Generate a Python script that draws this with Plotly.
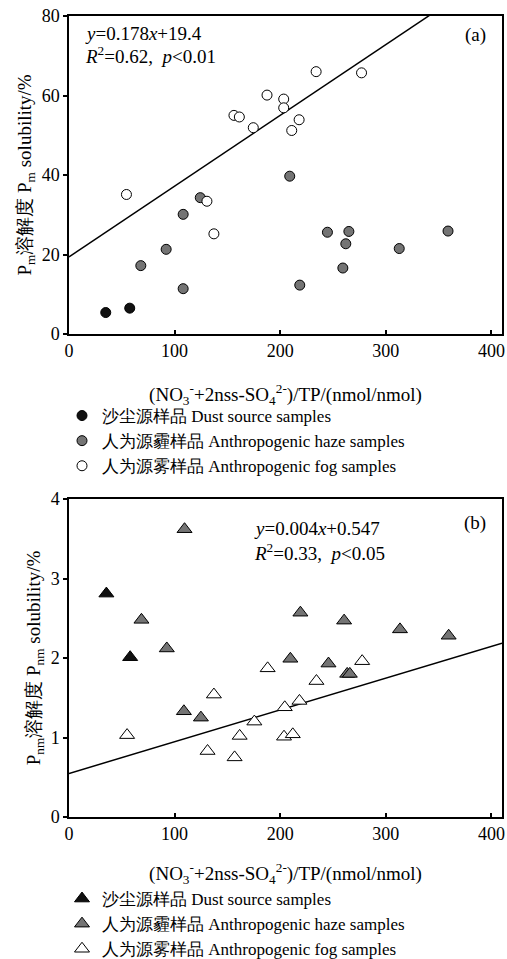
import plotly.graph_objects as go

# ---------------- data ----------------
# Panel (a): Pm solubility (%)
dust_x_a = [34.8, 57.5]
dust_y_a = [5.4, 6.5]
haze_x_a = [68.0, 92.0, 108.1, 108.1, 124.3, 209.0, 218.5, 244.7, 259.3, 262.1, 265.0, 312.7, 358.9]
haze_y_a = [17.2, 21.3, 11.4, 30.1, 34.3, 39.7, 12.3, 25.6, 16.6, 22.7, 25.8, 21.5, 25.9]
fog_x_a = [54.4, 130.6, 137.2, 156.2, 161.3, 174.5, 187.5, 203.3, 203.3, 210.9, 217.9, 234.0, 277.0]
fog_y_a = [35.1, 33.4, 25.2, 55.0, 54.6, 51.9, 60.1, 59.1, 56.9, 51.2, 53.9, 66.0, 65.7]
slope_a, icpt_a = 0.178, 19.4

# Panel (b): Pnm solubility (%)
dust_x_b = [35.4, 57.9]
dust_y_b = [2.81, 2.01]
haze_x_b = [68.6, 92.6, 109.4, 108.8, 124.9, 209.6, 219.1, 245.7, 260.5, 263.4, 265.9, 313.4, 359.5]
haze_y_b = [2.48, 2.12, 3.62, 1.33, 1.25, 1.99, 2.57, 1.93, 2.47, 1.80, 1.80, 2.36, 2.28]
fog_x_b = [55.0, 131.2, 137.2, 156.8, 161.6, 175.5, 188.1, 203.6, 204.3, 211.9, 218.2, 234.3, 277.6]
fog_y_b = [1.03, 0.83, 1.54, 0.75, 1.02, 1.20, 1.87, 1.01, 1.38, 1.04, 1.46, 1.71, 1.96]
slope_b, icpt_b = 0.004, 0.547

x_ticks = [0, 100, 200, 300, 400]
y_ticks_a = [0, 20, 40, 60, 80]
y_ticks_b = [0, 1, 2, 3, 4]

names = ["沙尘源样品 Dust source samples",
         "人为源霾样品 Anthropogenic haze samples",
         "人为源雾样品 Anthropogenic fog samples"]

# ---------------- style ----------------
FONT = "Liberation Serif, serif"
C_DUST = "#111111"
C_HAZE = "#747474"
C_FOG = "#ffffff"
X_MAX = 410

fig = go.Figure()

def add_group(x, y, color, name, symbol, size, xa, ya, legend):
    fig.add_trace(go.Scatter(
        x=x, y=y, mode="markers", name=name,
        marker=dict(symbol=symbol, size=size, color=color,
                    line=dict(color="#000000", width=1)),
        xaxis=xa, yaxis=ya, legend=legend))

# fit lines
line_x = [0, X_MAX]
fig.add_trace(go.Scatter(x=line_x, y=[icpt_a + slope_a * v for v in line_x], mode="lines",
                         line=dict(color="black", width=1.5), showlegend=False,
                         xaxis="x", yaxis="y"))
fig.add_trace(go.Scatter(x=line_x, y=[icpt_b + slope_b * v for v in line_x], mode="lines",
                         line=dict(color="black", width=1.5), showlegend=False,
                         xaxis="x2", yaxis="y2"))

add_group(dust_x_a, dust_y_a, C_DUST, names[0], "circle", 10, "x", "y", "legend")
add_group(haze_x_a, haze_y_a, C_HAZE, names[1], "circle", 10, "x", "y", "legend")
add_group(fog_x_a, fog_y_a, C_FOG, names[2], "circle", 10, "x", "y", "legend")

add_group(dust_x_b, dust_y_b, C_DUST, names[0], "triangle-up", 13, "x2", "y2", "legend2")
add_group(haze_x_b, haze_y_b, C_HAZE, names[1], "triangle-up", 13, "x2", "y2", "legend2")
add_group(fog_x_b, fog_y_b, C_FOG, names[2], "triangle-up", 13, "x2", "y2", "legend2")

xtitle = "(NO<sub>3</sub><sup>-</sup>+2nss-SO<sub>4</sub><sup>2-</sup>)/TP/(nmol/nmol)"

axis_common = dict(showline=True, linecolor="black", linewidth=1.5, mirror=True,
                   showgrid=False, zeroline=False, ticklen=4, tickwidth=1.5,
                   tickcolor="black", tickfont=dict(size=18, color="black", family=FONT))

ha = 318 / 801

fig.update_layout(
    width=507, height=959,
    margin=dict(l=69, r=5, t=16, b=142, autoexpand=False),
    plot_bgcolor="white", paper_bgcolor="white",
    font=dict(family=FONT, color="black", size=17),
    xaxis=dict(domain=[0, 1], anchor="y", range=[0, X_MAX], tickvals=x_ticks, ticks="inside",
               title=dict(text=xtitle, standoff=27, font=dict(size=19)), **axis_common),
    yaxis=dict(domain=[1 - ha, 1], anchor="x", range=[0, 80], tickvals=y_ticks_a, ticks="outside",
               title=dict(text="P<sub>m</sub>溶解度 P<sub>m</sub> solubility/%", standoff=5,
                          font=dict(size=19)), **axis_common),
    xaxis2=dict(domain=[0, 1], anchor="y2", range=[0, X_MAX], tickvals=x_ticks, ticks="inside",
                title=dict(text=xtitle, standoff=23, font=dict(size=19)), **axis_common),
    yaxis2=dict(domain=[0, ha], anchor="x2", range=[0, 4], tickvals=y_ticks_b, ticks="outside",
                title=dict(text="P<sub>nm</sub>溶解度 P<sub>nm</sub> solubility/%", standoff=5,
                           font=dict(size=19)), **axis_common),
    legend=dict(x=(62 - 69) / 433, xanchor="left", y=(817 - 398) / 801, yanchor="top",
                font=dict(size=17), itemwidth=30, tracegroupgap=0, bgcolor="rgba(0,0,0,0)"),
    legend2=dict(x=(62 - 69) / 433, xanchor="left", y=(817 - 881) / 801, yanchor="top",
                 font=dict(size=17), itemwidth=30, tracegroupgap=0, bgcolor="rgba(0,0,0,0)"),
)

ann = [
    dict(xref="x domain", yref="y domain", x=(83 - 69) / 433, y=(334 - 33) / 318,
         text="<i>y</i>=0.178<i>x</i>+19.4"),
    dict(xref="x domain", yref="y domain", x=(83 - 69) / 433, y=(334 - 55) / 318,
         text="<i>R</i><sup>2</sup>=0.62,  <i>p</i>&lt;0.01"),
    dict(xref="x domain", yref="y domain", x=(475 - 69) / 433, y=(334 - 35) / 318, text="(a)"),
    dict(xref="x2 domain", yref="y2 domain", x=(252 - 69) / 433, y=(817 - 529) / 318,
         text="<i>y</i>=0.004<i>x</i>+0.547"),
    dict(xref="x2 domain", yref="y2 domain", x=(252 - 69) / 433, y=(817 - 552) / 318,
         text="<i>R</i><sup>2</sup>=0.33,  <i>p</i>&lt;0.05"),
    dict(xref="x2 domain", yref="y2 domain", x=(475 - 69) / 433, y=(817 - 523) / 318, text="(b)"),
]
for a in ann:
    fig.add_annotation(showarrow=False, xanchor="center" if a["text"].startswith("(") else "left",
                       yanchor="middle", align="left",
                       font=dict(size=19, family=FONT, color="black"), **a)

fig.write_html("out.html",
               config={"displayModeBar": False},
               post_script="document.body.style.margin='0';document.body.style.overflow='hidden';")
